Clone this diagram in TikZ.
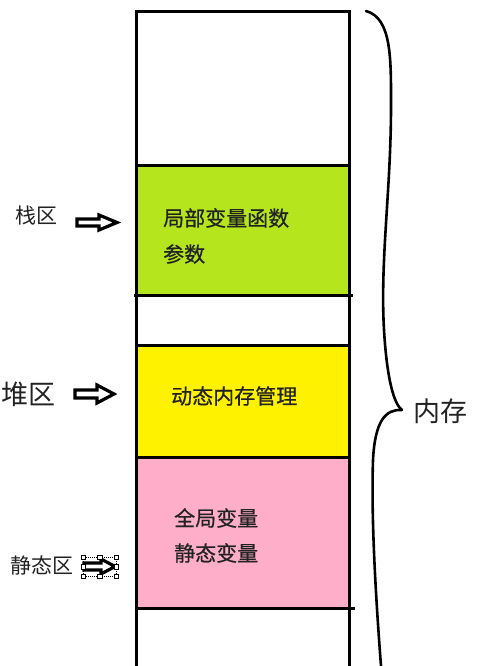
\documentclass[tikz,border=0pt]{standalone}
\usepackage{fontspec}
\newfontfamily\cjk[FakeBold=0.6]{Noto Sans CJK SC}
\newfontfamily\cjklight{Noto Sans CJK SC}
\definecolor{stackgreen}{HTML}{B5E61D}
\definecolor{heapyellow}{HTML}{FFF200}
\definecolor{staticpink}{HTML}{FFAEC9}
\definecolor{inktext}{HTML}{222222}
\begin{document}
\begin{tikzpicture}[x=1pt,y=-1pt,
  wall/.style={line width=3pt,black},
  region/.style={inner sep=0pt,outer sep=0pt,anchor=north west,minimum width=213pt},
  boxtext/.style={font=\cjk\fontsize{21}{21}\selectfont,inner sep=0pt,anchor=west,text=inktext},
  sidelabel/.style={font=\cjklight\fontsize{21}{21}\selectfont,inner sep=0pt,anchor=west,text=inktext},
  hollowarrow/.style={line width=3.2pt,black,fill=white,line join=miter},
  handle/.style={draw=black,fill=white,line width=0.5pt,minimum size=4.5pt,inner sep=0pt}]
\useasboundingbox (0,0) rectangle (500,666);
% coloured regions
\node[region,fill=stackgreen,minimum height=130pt] (stack) at (136,165) {};
\node[region,fill=heapyellow,minimum height=112pt] (heap) at (136,345) {};
\node[region,fill=staticpink,minimum height=151pt] (static) at (136,457) {};
% column walls
\draw[wall] (136,666) -- (136,12) -- (349,12) -- (349,666);
\draw[wall] (136,165) -- (349,165);
\draw[wall] (134,295) -- (353,295);
\draw[wall] (136,345) -- (349,345);
\draw[wall] (136,457) -- (349,457);
\draw[wall] (136,608) -- (355,608);
% texts inside
\node[boxtext] (t1) at (163,218) {局部变量函数};
\node[boxtext] (t2) at (163,254) {参数};
\node[boxtext] (t3) at (171,396) {动态内存管理};
\node[boxtext] (t4) at (174,518) {全局变量};
\node[boxtext] (t5) at (174,553) {静态变量};
% side labels
\node[sidelabel] (l1) at (15,216) {栈区};
\node[sidelabel,font=\cjklight\fontsize{27}{27}\selectfont] (l2) at (1,394) {堆区};
\node[sidelabel] (l3) at (10,565) {静态区};
% hollow arrows
\draw[hollowarrow] (77,219) -- (99,219) -- (99,215) -- (117,222.5) -- (99,230) -- (99,226) -- (77,226) -- cycle;
\draw[hollowarrow] (75,390) -- (97,390) -- (97,385) -- (114,394) -- (97,403) -- (97,398) -- (75,398) -- cycle;
\draw[hollowarrow] (84,563) -- (101,563) -- (101,559) -- (115,566.5) -- (101,574) -- (101,570) -- (84,570) -- cycle;
% selection handles
\draw[black,line width=0.4pt,dash pattern=on 1pt off 1pt] (83,557) rectangle (116,576);
\foreach \hx/\hy [count=\i] in {83/557,99.5/557,116/557,83/566.5,116/566.5,83/576,99.5/576,116/576}
  \node[handle] (h\i) at (\hx,\hy) {};
% brace
\coordinate (btop) at (366,11);
\coordinate (btip) at (402,410);
\coordinate (bbot) at (381,666);
\draw[line width=2.6pt,line cap=round] (btop) .. controls (392,18) and (391,60) .. (391,106)
  .. controls (391,190) and (380,260) .. (384,330)
  .. controls (387,380) and (394,404) .. (btip);
\draw[line width=2.6pt] (btip) .. controls (386,409) and (375,420) .. (373,460)
  .. controls (371,520) and (376,600) .. (bbot);
\node[sidelabel,font=\cjklight\fontsize{27}{27}\selectfont] (mem) at (413,411) {内存};
\end{tikzpicture}
\end{document}
